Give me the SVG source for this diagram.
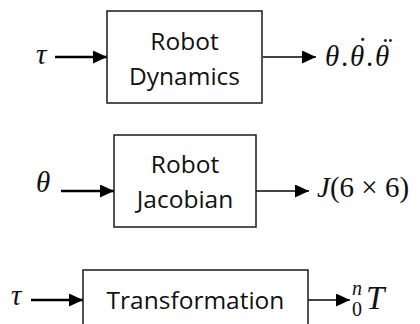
<svg xmlns="http://www.w3.org/2000/svg" width="420" height="324" viewBox="0 0 420 324">
<style>
.box{fill:#fff;stroke:#1a1a1a;stroke-width:1.5}
.lbl{font-family:"Open Sans","Noto Sans",sans-serif;font-size:24.5px;fill:#111;text-anchor:middle}
.m{font-family:"Liberation Serif","DejaVu Serif",serif;font-style:italic;font-size:29px;fill:#111}
.up{font-style:normal}
.in{stroke:#000;stroke-width:2.5;fill:none}
.out{stroke:#444;stroke-width:2;fill:none}
</style>
<defs>
<marker id="ah" viewBox="0 0 14 13" refX="14" refY="6.5" markerWidth="14" markerHeight="13" markerUnits="userSpaceOnUse" orient="auto">
<path d="M0,0 L14,6.5 L0,13 Z" fill="#000"/>
</marker>
</defs>
<g id="connectors">
<line class="in" x1="55" y1="57" x2="107" y2="57" marker-end="url(#ah)"/>
<line class="out" x1="263" y1="57" x2="316" y2="57" marker-end="url(#ah)"/>
<line class="in" x1="61" y1="191" x2="114" y2="191" marker-end="url(#ah)"/>
<line class="out" x1="256" y1="191" x2="309" y2="191" marker-end="url(#ah)"/>
<line class="in" x1="31" y1="300" x2="83" y2="300" marker-end="url(#ah)"/>
<line class="out" x1="308" y1="300" x2="350" y2="300" marker-end="url(#ah)"/>
</g>
<g id="dynamics">
<rect class="box" x="107" y="11" width="155" height="92"/>
<text class="lbl" x="184.5" y="50">Robot</text>
<text class="lbl" x="184.5" y="85">Dynamics</text>
</g>
<g id="jacobian">
<rect class="box" x="114" y="135" width="142" height="92"/>
<text class="lbl" x="185" y="173">Robot</text>
<text class="lbl" x="185" y="208">Jacobian</text>
</g>
<g id="transformation">
<rect class="box" x="83" y="270" width="225" height="70"/>
<text class="lbl" x="195.5" y="309">Transformation</text>
</g>
<g id="labels">
<text class="m" x="36" y="64">τ</text>
<text class="m" y="66"><tspan x="325">θ</tspan><tspan x="341" class="up">.</tspan><tspan x="350">θ</tspan><tspan x="366" class="up">.</tspan><tspan x="375">θ</tspan><tspan x="356" y="58">˙</tspan><tspan x="381" y="58">¨</tspan></text>
<text class="m" x="36" y="192">θ</text>
<text class="m" x="317" y="197">J<tspan class="up">(6 × 6)</tspan></text>
<text class="m" x="11" y="305">τ</text>
<text class="m"><tspan x="352" y="295" font-size="20">n</tspan><tspan x="352" y="316" font-size="20" class="up">0</tspan><tspan x="366" y="309" font-size="33">T</tspan></text>
</g>
</svg>
